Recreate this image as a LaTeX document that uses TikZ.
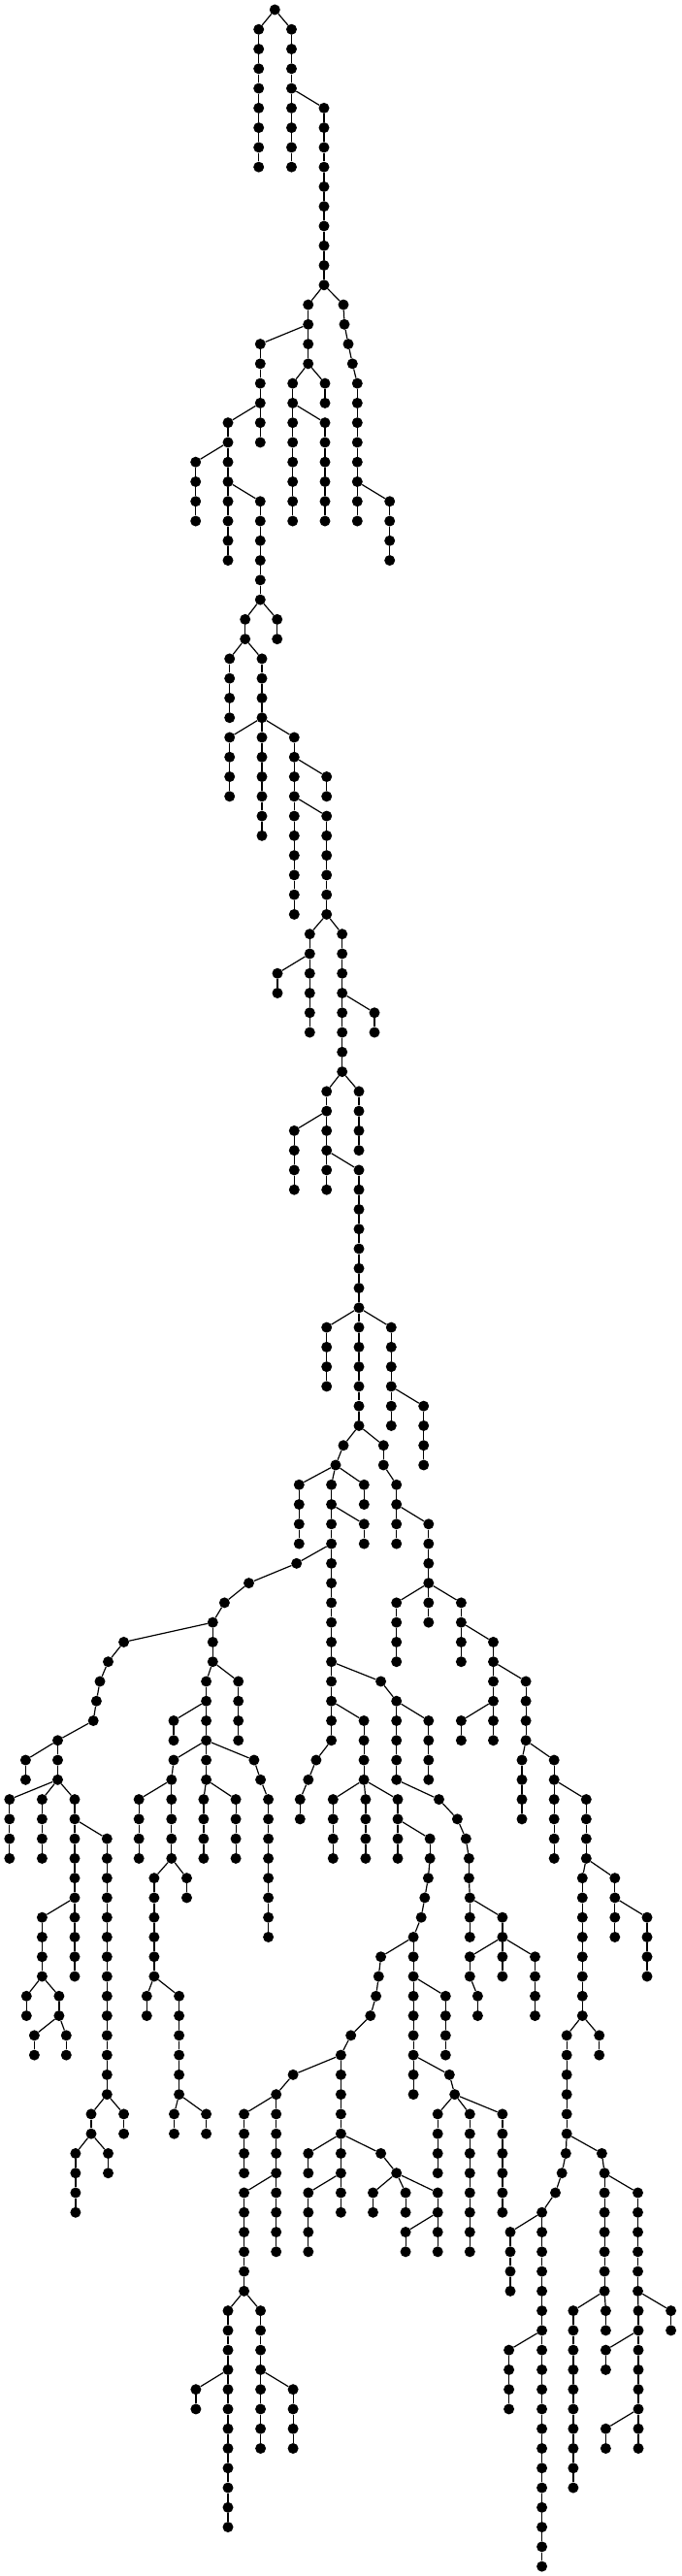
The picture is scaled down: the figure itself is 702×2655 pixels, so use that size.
\documentclass[tikz,border=0pt]{standalone}
\tikzset{dot/.style={circle,fill=black,draw=none,inner sep=0pt,minimum size=11pt},
 edge/.style={line width=1.2pt,black}}
\newcommand\tchain[5]{%
  \foreach \l in {#3,...,#4}{\node[dot] (#1-\l) at (#2,{-10-20.27*\l}) {};}%
  \draw[edge] (#5) -- (#1-#3);%
  \ifnum#3<#4\relax
    \pgfmathtruncatemacro\tcb{#3+1}%
    \foreach \l in {\tcb,...,#4}{\pgfmathtruncatemacro\tcp{\l-1}\draw[edge] (#1-\tcp) -- (#1-\l);}%
  \fi}
\begin{document}
\begin{tikzpicture}[x=1pt,y=1pt]
\useasboundingbox (0,0) rectangle (702,-2655);
\node[dot] (r) at (283.3,-10) {};
\tchain{a}{266.7}{1}{8}{r}
\tchain{b}{300.5}{1}{8}{r}
\tchain{c}{334}{5}{14}{b-4}
\tchain{d}{317.7}{15}{18}{c-14}
\tchain{e}{354}{15}{15}{c-14}
\tchain{e}{355}{16}{16}{e-15}
\tchain{e}{359}{17}{17}{e-16}
\tchain{e}{363.3}{18}{18}{e-17}
\tchain{e}{368.3}{19}{26}{e-18}
\tchain{f}{268.3}{17}{22}{d-16}
\tchain{g}{301.7}{19}{26}{d-18}
\tchain{h}{335}{19}{20}{d-18}
\tchain{i}{335}{21}{26}{g-20}
\tchain{j}{235}{21}{28}{f-20}
\tchain{k}{201.7}{23}{26}{j-22}
\tchain{m}{268.3}{25}{30}{j-24}
\tchain{ea}{401.7}{25}{28}{e-24}
\tchain{n}{252.7}{31}{32}{m-30}
\tchain{o}{285.7}{31}{32}{m-30}
\tchain{p}{236.7}{33}{36}{n-32}
\tchain{q}{270}{33}{36}{n-32}
\tchain{s}{236.7}{37}{40}{q-36}
\tchain{t}{270}{37}{42}{q-36}
\tchain{u}{303.3}{37}{46}{q-36}
\tchain{v}{336.7}{39}{40}{u-38}
\tchain{w}{336.7}{41}{46}{u-40}
\tchain{x}{319.3}{47}{52}{w-46}
\tchain{y}{352.7}{47}{54}{w-46}
\tchain{xa}{286}{49}{50}{x-48}
\tchain{ya}{386}{51}{52}{y-50}
\tchain{z}{336.7}{55}{60}{y-54}
\tchain{aa}{370}{55}{58}{y-54}
\tchain{za}{303.3}{57}{60}{z-56}
\tchain{ab}{370}{59}{72}{z-58}
\tchain{ac}{336.7}{67}{70}{ab-66}
\tchain{ad}{403.3}{67}{72}{ab-66}
\tchain{ae}{436.7}{71}{74}{ad-70}
\tchain{af}{354}{73}{73}{ab-72}
\tchain{af}{346}{74}{74}{af-73}
\tchain{ag}{395.3}{73}{74}{ab-72}
\tchain{ah}{308.3}{75}{78}{af-74}
\tchain{tr}{341.6}{75}{88}{af-74}
\tchain{ai}{375.3}{75}{76}{af-74}
\tchain{aj}{408.7}{75}{78}{ag-74}
\tchain{ak}{375.3}{77}{78}{tr-76}
\tchain{al}{441.8}{77}{80}{aj-76}
\tchain{am}{408.7}{81}{84}{al-80}
\tchain{an}{441.8}{81}{82}{al-80}
\tchain{ao}{475.4}{81}{84}{al-80}
\tchain{ap}{508.5}{83}{88}{ao-82}
\tchain{aq}{542.1}{85}{88}{ap-84}
\tchain{ar}{475.4}{87}{88}{ap-86}
\tchain{as}{538}{89}{92}{aq-88}
\tchain{at}{571.2}{89}{94}{aq-88}
\tchain{au}{604.3}{91}{94}{at-90}
\tchain{av}{600.3}{95}{102}{au-94}
\tchain{aw}{633.8}{95}{98}{au-94}
\tchain{ax}{667}{97}{100}{aw-96}
\tchain{ay}{584.2}{103}{108}{av-102}
\tchain{az}{617.7}{103}{104}{av-102}
\tchain{ay}{583.3}{109}{109}{ay-108}
\tchain{ay}{579.2}{110}{110}{ay-109}
\tchain{ay}{572.5}{111}{111}{ay-110}
\tchain{ay}{558.6}{112}{130}{ay-111}
\tchain{ba}{526}{113}{116}{ay-112}
\tchain{bb}{524.6}{119}{122}{ay-118}
\tchain{bc}{620.4}{109}{109}{ay-108}
\tchain{bc}{623.1}{110}{116}{bc-109}
\tchain{bd}{657.5}{111}{116}{bc-110}
\tchain{be}{590.9}{117}{126}{bc-116}
\tchain{bf}{624.4}{117}{118}{bc-116}
\tchain{bg}{658}{117}{124}{bd-116}
\tchain{bh}{691.6}{117}{118}{bd-116}
\tchain{bi}{624.4}{119}{120}{bg-118}
\tchain{bj}{624.4}{123}{124}{bg-122}
\tchain{ca}{305.7}{79}{79}{tr-78}
\tchain{cb}{256.5}{80}{80}{ca-79}
\tchain{cc}{231.4}{81}{81}{cb-80}
\tchain{cd}{219.3}{82}{84}{cc-81}
\tchain{ce}{127.6}{83}{83}{cd-82}
\tchain{ce}{111.5}{84}{84}{ce-83}
\tchain{ce}{103}{85}{85}{ce-84}
\tchain{ce}{99.4}{86}{86}{ce-85}
\tchain{ce}{96.2}{87}{87}{ce-86}
\tchain{ce}{59.5}{88}{90}{ce-87}
\tchain{cf}{26.4}{89}{90}{ce-88}
\tchain{cg}{9.8}{91}{94}{ce-90}
\tchain{ch}{43.4}{91}{94}{ce-90}
\tchain{ci}{77}{91}{100}{ce-90}
\tchain{cj}{110.3}{93}{106}{ci-92}
\tchain{ck}{43.4}{97}{100}{ci-96}
\tchain{cl}{27.3}{101}{102}{ck-100}
\tchain{cm}{60.9}{101}{102}{ck-100}
\tchain{cn}{35.4}{103}{104}{cm-102}
\tchain{co}{68.3}{103}{104}{cm-102}
\tchain{cp}{94}{107}{108}{cj-106}
\tchain{cq}{127.6}{107}{108}{cj-106}
\tchain{cr}{77.9}{109}{112}{cp-108}
\tchain{cs}{111.5}{109}{110}{cp-108}
\tchain{ct}{212.6}{85}{88}{cd-84}
\tchain{cu}{245.7}{85}{88}{cd-84}
\tchain{cv}{179}{87}{88}{ct-86}
\tchain{cw}{179}{89}{89}{ct-88}
\tchain{cw}{176.8}{90}{94}{cw-89}
\tchain{cx}{212.6}{89}{90}{ct-88}
\tchain{cy}{209.9}{91}{94}{cx-90}
\tchain{cz}{243.1}{91}{94}{cx-90}
\tchain{da}{261.9}{89}{89}{ct-88}
\tchain{da}{268.6}{90}{90}{da-89}
\tchain{da}{276.6}{91}{98}{da-90}
\tchain{db}{143.2}{91}{94}{cw-90}
\tchain{dc}{158.9}{95}{100}{cw-94}
\tchain{dd}{192.5}{95}{96}{cw-94}
\tchain{de}{151.3}{101}{102}{dc-100}
\tchain{df}{184.6}{101}{106}{dc-100}
\tchain{dg}{179.5}{107}{108}{df-106}
\tchain{dh}{212.6}{107}{108}{df-106}
\tchain{di}{392.6}{85}{85}{tr-84}
\tchain{di}{408.7}{86}{90}{di-85}
\tchain{dj}{441.8}{87}{90}{di-86}
\tchain{dk}{375.1}{87}{90}{tr-86}
\tchain{dl}{343.3}{91}{94}{dk-90}
\tchain{dm}{376.9}{91}{94}{dk-90}
\tchain{dn}{410}{91}{94}{dk-90}
\tchain{do}{325.9}{89}{89}{tr-88}
\tchain{do}{317.8}{90}{90}{do-89}
\tchain{do}{309.3}{91}{92}{do-90}
\tchain{dp}{452.5}{91}{91}{di-90}
\tchain{dp}{471.4}{92}{92}{dp-91}
\tchain{dp}{480.3}{93}{93}{dp-92}
\tchain{dp}{483.4}{94}{95}{dp-93}
\tchain{dp}{484.3}{96}{98}{dp-95}
\tchain{dq}{517.9}{97}{98}{dp-96}
\tchain{dr}{484.3}{99}{100}{dq-98}
\tchain{dr}{492.4}{101}{102}{dr-100}
\tchain{ds}{517.9}{99}{100}{dq-98}
\tchain{dt}{551.5}{99}{102}{dq-98}
\tchain{du}{443.2}{93}{94}{dn-92}
\tchain{du}{441.4}{95}{95}{du-94}
\tchain{du}{437.8}{96}{96}{du-95}
\tchain{du}{434.2}{97}{97}{du-96}
\tchain{du}{426.1}{98}{98}{du-97}
\tchain{dv}{392.6}{99}{99}{du-98}
\tchain{dv}{390.3}{100}{100}{dv-99}
\tchain{dv}{387.6}{101}{101}{dv-100}
\tchain{dv}{381.8}{102}{102}{dv-101}
\tchain{dv}{361.7}{103}{103}{dv-102}
\tchain{dv}{351.4}{104}{112}{dv-103}
\tchain{dw}{426.1}{99}{106}{du-98}
\tchain{dx}{459.3}{101}{104}{dw-100}
\tchain{dy}{463.3}{105}{105}{dw-104}
\tchain{dy}{468.7}{106}{106}{dy-105}
\tchain{dz}{451.2}{107}{110}{dy-106}
\tchain{eb}{484.3}{107}{114}{dy-106}
\tchain{ec}{517.9}{107}{112}{dy-106}
\tchain{ed}{302.1}{105}{105}{dv-104}
\tchain{ed}{284.7}{106}{114}{ed-105}
\tchain{ee}{251.6}{107}{110}{ed-106}
\tchain{ef}{251.6}{111}{116}{ed-110}
\tchain{eg}{235}{117}{128}{ef-116}
\tchain{eh}{268.6}{117}{124}{ef-116}
\tchain{ei}{201.9}{121}{122}{eg-120}
\tchain{ej}{302.1}{121}{124}{eh-120}
\tchain{ek}{317.8}{109}{110}{dv-108}
\tchain{el}{392.6}{109}{109}{dv-108}
\tchain{el}{408.7}{110}{110}{el-109}
\tchain{em}{317.8}{111}{114}{dv-110}
\tchain{en}{384.5}{111}{112}{el-110}
\tchain{eo}{418.1}{111}{112}{el-110}
\tchain{ep}{451.2}{111}{114}{el-110}
\tchain{eq}{418.1}{113}{114}{ep-112}
\end{tikzpicture}
\end{document}
